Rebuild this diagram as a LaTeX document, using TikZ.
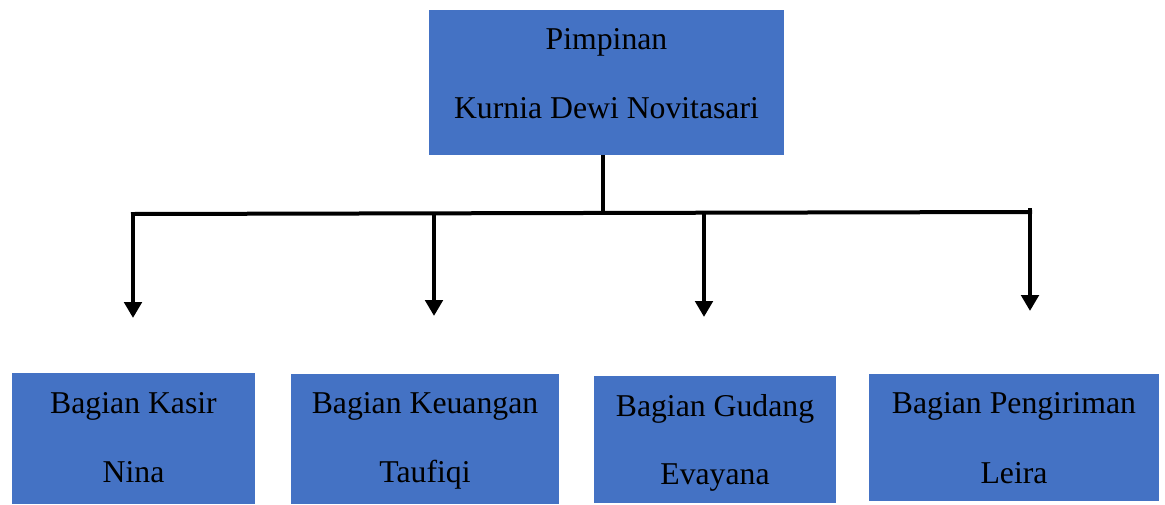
\documentclass[tikz,border=0pt]{standalone}
\usepackage{fontspec}
\setmainfont{Liberation Serif}
\usetikzlibrary{arrows.meta}
\definecolor{boxblue}{HTML}{4472C4}
\begin{document}
\begin{tikzpicture}[x=0.75pt,y=-0.75pt,
  unitbox/.style={fill=boxblue,draw=none,inner sep=0pt,outer sep=0pt,rectangle},
  boxtext/.style={anchor=base,inner sep=0pt,font=\fontsize{23.8}{28}\selectfont},
  wire/.style={line width=3pt,line cap=rect},
  down/.style={line width=3pt,-{Triangle[width=13pt,length=12pt]}}]
\useasboundingbox (0,0) rectangle (1165,504);

% unit boxes (size given in px: 1px = 0.75pt)
\node[unitbox,minimum width=266.25pt,minimum height=108.75pt] (top) at (606.5,82.5) {};
\node[unitbox,minimum width=182.25pt,minimum height=98.25pt] (b1) at (133.5,438.5) {};
\node[unitbox,minimum width=201pt,minimum height=97.5pt] (b2) at (425,439) {};
\node[unitbox,minimum width=181.5pt,minimum height=95.25pt] (b3) at (715,439.5) {};
\node[unitbox,minimum width=217.5pt,minimum height=95.25pt] (b4) at (1014,437.5) {};

% texts
\node[boxtext] (t0a) at (606.5,49) {Pimpinan};
\node[boxtext] (t0b) at (606.5,118) {Kurnia Dewi Novitasari};
\node[boxtext] (t1a) at (133.5,413) {Bagian Kasir};
\node[boxtext] (t1b) at (133.5,482) {Nina};
\node[boxtext] (t2a) at (425,413) {Bagian Keuangan};
\node[boxtext] (t2b) at (425,482) {Taufiqi};
\node[boxtext] (t3a) at (715,416) {Bagian Gudang};
\node[boxtext] (t3b) at (715,484) {Evayana};
\node[boxtext] (t4a) at (1014,413) {Bagian Pengiriman};
\node[boxtext] (t4b) at (1014,483) {Leira};

% bus and branches
\coordinate (busL) at (133,214);
\coordinate (busM) at (603,213);
\coordinate (busR) at (1030,212);
\coordinate (j2) at (434,213.5);
\coordinate (j3) at (704,213);
\coordinate (j4top) at (1030,208);
\coordinate (e1) at (133,318);
\coordinate (e2) at (434,316);
\coordinate (e3) at (704,317);
\coordinate (e4) at (1030,311);

\draw[wire,line cap=butt] (top.south -| busM) -- (busM);
\draw[wire] (busL) -- (busR);
\draw[down] (busL) -- (e1);
\draw[down] (j2) -- (e2);
\draw[down] (j3) -- (e3);
\draw[down] (j4top) -- (e4);
\end{tikzpicture}
\end{document}
